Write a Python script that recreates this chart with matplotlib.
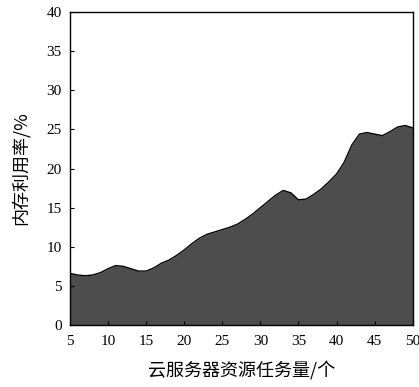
import matplotlib.pyplot as plt

tasks = list(range(5, 51))
mem_usage = [6.6, 6.4, 6.3, 6.4, 6.7, 7.2, 7.6, 7.5, 7.2, 6.9,
             6.9, 7.3, 7.9, 8.3, 8.9, 9.6, 10.4, 11.1, 11.6, 11.9,
             12.2, 12.5, 12.9, 13.5, 14.2, 15.0, 15.8, 16.6, 17.2, 16.9,
             16.0, 16.1, 16.7, 17.4, 18.3, 19.3, 20.8, 23.0, 24.4, 24.6,
             24.4, 24.2, 24.7, 25.3, 25.5, 25.2]
xticks = [5, 10, 15, 20, 25, 30, 35, 40, 45, 50]
yticks = [0, 5, 10, 15, 20, 25, 30, 35, 40]

plt.rcParams['font.family'] = ['Liberation Serif', 'Noto Sans CJK SC']

fig = plt.figure(figsize=(4.19, 3.87), dpi=100)
ax = fig.add_axes([0.167, 0.160, 0.818, 0.809])

ax.fill_between(tasks, mem_usage, 0, color='#4d4d4d', linewidth=0)
ax.plot(tasks, mem_usage, color='black', linewidth=1.0)

ax.set_xlim(5, 50)
ax.set_ylim(0, 40)
ax.set_xticks(xticks)
ax.set_yticks(yticks)
ax.tick_params(direction='in', length=3, width=0.8, labelsize=11)
ax.tick_params(axis='y', pad=6)
ax.tick_params(axis='x', pad=7)
for s in ax.spines.values():
    s.set_linewidth(1.0)

ax.set_xlabel('云服务器资源任务量/个', fontsize=13, family=['Noto Sans CJK SC'],
              fontweight='light', labelpad=10)
ax.set_ylabel('内存利用率/%', fontsize=13, family=['Noto Sans CJK SC'],
              fontweight='light', labelpad=12)

fig.savefig('out.png', dpi=100)
